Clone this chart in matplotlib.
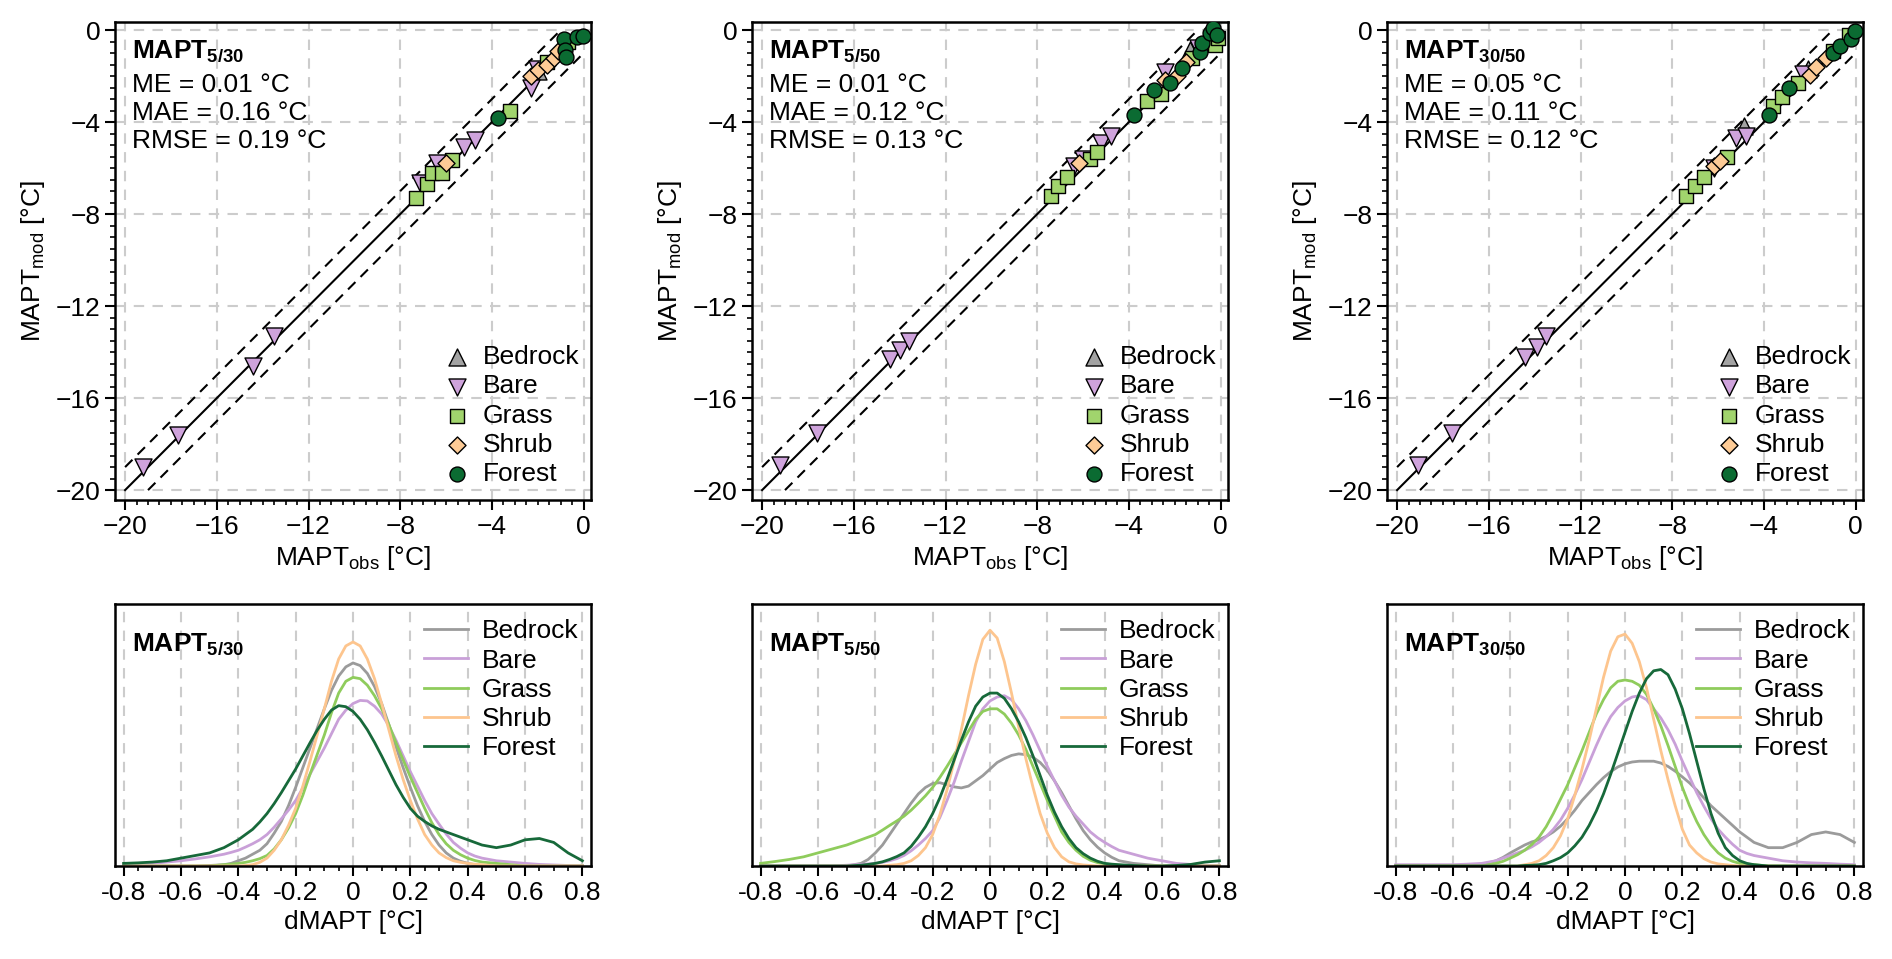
import numpy as np
import matplotlib
matplotlib.use('Agg')
import matplotlib.pyplot as plt
from matplotlib.ticker import MultipleLocator

plt.rcParams['font.family'] = ['Liberation Sans', 'DejaVu Sans']
plt.rcParams['mathtext.fontset'] = 'custom'
plt.rcParams['mathtext.rm'] = 'Liberation Sans'
plt.rcParams['mathtext.bf'] = 'Liberation Sans:bold'
plt.rcParams['mathtext.it'] = 'Liberation Sans:italic'

# classes and styles
classes = ['Bedrock', 'Bare', 'Grass', 'Shrub', 'Forest']
markers = ['^', 'v', 's', 'D', 'o']
marker_sizes = [150, 150, 115, 75, 115]
marker_colors = ['#a3a3a3', '#cfa3dc', '#a1d46d', '#fdcb96', '#0b6b32']
line_colors = ['#9b9b9b', '#c9a0d8', '#8fcc5c', '#fdc58e', '#17693a']

panel_names = ['5/30', '5/50', '30/50']
me = [0.01, 0.01, 0.05]
mae = [0.16, 0.12, 0.11]
rmse = [0.19, 0.13, 0.12]

# scatter data: observed / modelled MAPT per class, per panel
obs_530 = {
    'Bedrock': [-2.0],
    'Bare': [-19.2, -17.7, -14.4, -13.5, -7.15, -6.4, -5.2, -4.75, -2.3, -2.05],
    'Grass': [-7.3, -6.85, -6.6, -6.2, -5.75, -3.2, -1.6, -0.7],
    'Shrub': [-6.0, -2.3, -2.0, -1.6, -1.3, -1.1],
    'Forest': [-3.75, -0.85, -0.8, -0.75, -0.3, -0.05],
}
mod_530 = {
    'Bedrock': [-1.8],
    'Bare': [-19.0, -17.6, -14.6, -13.3, -6.65, -5.8, -5.1, -4.8, -2.5, -1.7],
    'Grass': [-7.3, -6.7, -6.2, -6.2, -5.65, -3.5, -1.4, -0.5],
    'Shrub': [-5.8, -2.0, -1.75, -1.5, -1.2, -0.9],
    'Forest': [-3.83, -0.4, -0.85, -1.15, -0.3, -0.25],
}
obs_550 = {
    'Bedrock': [-1.35],
    'Bare': [-19.2, -17.6, -14.4, -14.0, -13.6, -6.4, -6.0, -5.2, -4.8, -2.44, -1.0],
    'Grass': [-7.4, -7.1, -6.7, -5.7, -5.4, -3.2, -2.6, -1.26, -0.26, -0.1],
    'Shrub': [-6.2, -2.44, -1.9, -1.5],
    'Forest': [-3.8, -2.9, -2.2, -1.7, -0.91, -0.83, -0.48, -0.35, -0.17],
}
mod_550 = {
    'Bedrock': [-0.87],
    'Bare': [-18.9, -17.5, -14.3, -13.9, -13.5, -5.9, -5.6, -4.9, -4.6, -1.83, -0.8],
    'Grass': [-7.2, -6.8, -6.4, -5.6, -5.3, -3.1, -2.8, -1.2, -0.65, -0.35],
    'Shrub': [-5.8, -2.17, -2.0, -1.4],
    'Forest': [-3.7, -2.6, -2.3, -1.65, -0.96, -0.57, -0.13, 0.1, -0.2],
}
obs_3050 = {
    'Bedrock': [-4.85, -2.1],
    'Bare': [-19.1, -17.6, -14.4, -13.9, -13.5, -6.2, -5.2, -4.8, -2.3],
    'Grass': [-7.4, -7.0, -6.6, -5.6, -3.6, -3.2, -2.5, -1.0, -0.3],
    'Shrub': [-6.2, -5.9, -2.0, -1.75, -1.3],
    'Forest': [-3.8, -2.9, -1.0, -0.7, -0.2, -0.05],
}
mod_3050 = {
    'Bedrock': [-4.15, -1.7],
    'Bare': [-18.9, -17.5, -14.2, -13.8, -13.3, -6.0, -4.7, -4.6, -1.9],
    'Grass': [-7.2, -6.8, -6.4, -5.5, -3.3, -2.9, -2.3, -0.9, -0.2],
    'Shrub': [-5.9, -5.7, -1.95, -1.6, -1.2],
    'Forest': [-3.7, -2.5, -1.0, -0.7, -0.4, -0.05],
}
obs_all = [obs_530, obs_550, obs_3050]
mod_all = [mod_530, mod_550, mod_3050]

# density curves of dMAPT (relative height):
# 0.05 steps in the tails, 0.025 steps between -0.45 and 0.45
dmapt = np.concatenate([np.linspace(-0.8, -0.5, 7), np.linspace(-0.45, 0.45, 37), np.linspace(0.5, 0.8, 7)])

dens_530 = {
    'Bedrock': [0, 0, 0, 0, 0, 0, .002,
                .005, .01, .02, .03, .045, .06, .085, .125, .17, .23, .30, .375, .45, .525, .60, .67, .725, .76,
                .775,
                .765, .735, .685, .62, .54, .455, .375, .30, .23, .17, .12, .08, .05, .03, .018, .01, .005, .002,
                0, 0, 0, 0, 0, 0, 0],
    'Bare': [.005, .007, .01, .015, .02, .027, .035,
             .045, .052, .06, .072, .085, .10, .12, .148, .18, .213, .25, .298, .35, .40, .45, .505, .56, .595,
             .62,
             .632, .63, .61, .58, .535, .48, .42, .36, .305, .25, .20, .16, .122, .09, .068, .05, .038, .03,
             .02, .015, .01, .006, .004, .002, .001],
    'Grass': [0, 0, 0, 0, 0, 0, 0,
              .005, .007, .01, .014, .02, .028, .04, .065, .10, .145, .20, .27, .35, .425, .50, .585, .66, .705,
              .72,
              .715, .69, .65, .60, .54, .47, .405, .34, .28, .22, .165, .12, .085, .06, .043, .03, .021, .015,
              .01, .005, 0, 0, 0, 0, 0],
    'Shrub': [0, 0, 0, 0, 0, 0, 0,
              0, 0, 0, .002, .005, .014, .03, .06, .10, .155, .22, .305, .40, .50, .60, .705, .79, .84,
              .855,
              .84, .79, .715, .62, .52, .42, .33, .25, .18, .12, .08, .05, .032, .02, .014, .01, .007, .005,
              0, 0, 0, 0, 0, 0, 0],
    'Forest': [.01, .012, .015, .02, .03, .04, .05,
               .07, .085, .10, .12, .14, .168, .20, .238, .28, .325, .37, .42, .47, .518, .56, .595, .612, .608,
               .59,
               .56, .52, .472, .42, .365, .31, .262, .22, .19, .17, .153, .14, .13, .12, .11, .10, .09, .08,
               .07, .08, .10, .105, .09, .05, .02],
}
dens_550 = {
    'Bedrock': [0, 0, 0, 0, 0, 0, 0,
                .01, .025, .05, .08, .12, .16, .20, .24, .275, .30, .315, .318, .31, .302, .298, .305, .325, .345,
                .37,
                .395, .41, .422, .428, .425, .415, .395, .365, .325, .28, .23, .18, .135, .10, .072, .05, .033, .02,
                .01, .005, 0, 0, 0, 0, 0],
    'Bare': [0, 0, 0, 0, 0, 0, .003,
             .006, .008, .01, .014, .02, .028, .04, .058, .08, .105, .135, .185, .25, .32, .40, .475, .55, .60,
             .63,
             .645, .65, .635, .60, .555, .50, .44, .38, .325, .27, .225, .19, .16, .13, .108, .09, .074, .06,
             .045, .03, .02, .01, .006, .003, .001],
    'Grass': [.01, .017, .025, .035, .05, .065, .08,
              .10, .11, .12, .137, .155, .172, .19, .213, .24, .268, .30, .338, .38, .425, .47, .515, .56, .59,
              .60,
              .60, .58, .545, .50, .445, .38, .315, .25, .19, .13, .09, .06, .037, .022, .013, .008, .005, .003,
              0, 0, 0, 0, 0, 0, 0],
    'Shrub': [0, 0, 0, 0, 0, 0, 0,
              0, 0, 0, 0, .003, .005, .01, .02, .04, .07, .12, .195, .29, .40, .52, .65, .77, .865,
              .90,
              .87, .78, .66, .53, .41, .30, .20, .125, .07, .035, .016, .008, .004, .002, 0, 0, 0, 0,
              0, 0, 0, 0, 0, 0, 0],
    'Forest': [0, 0, 0, 0, 0, 0, 0,
               .003, .006, .01, .016, .025, .036, .05, .075, .11, .15, .20, .26, .33, .405, .48, .55, .61, .645,
               .66,
               .66, .64, .60, .55, .49, .42, .345, .27, .205, .15, .105, .07, .047, .03, .018, .01, .007, .005,
               .002, 0, 0, .002, .006, .015, .02],
}
dens_3050 = {
    'Bedrock': [0, 0, 0, 0, 0, 0, .005,
                .02, .033, .05, .065, .08, .092, .10, .113, .13, .152, .18, .213, .25, .28, .31, .337, .36, .378,
                .39,
                .397, .40, .40, .40, .393, .38, .362, .34, .317, .29, .26, .23, .205, .18, .155, .13, .11, .09,
                .07, .07, .09, .12, .13, .12, .09],
    'Bare': [.005, .005, .005, .005, .005, .007, .01,
             .02, .03, .04, .05, .06, .073, .09, .112, .14, .175, .22, .272, .33, .395, .46, .52, .57, .605,
             .63,
             .645, .65, .635, .60, .565, .52, .465, .40, .34, .28, .228, .18, .14, .11, .083, .06, .048, .04,
             .03, .02, .015, .012, .01, .007, .005],
    'Grass': [0, 0, 0, 0, 0, 0, 0,
              .01, .018, .03, .043, .06, .082, .11, .15, .20, .255, .31, .375, .44, .51, .58, .635, .68, .705,
              .71,
              .705, .69, .655, .60, .535, .46, .38, .30, .23, .17, .12, .08, .05, .03, .018, .01, .007, .005,
              0, 0, 0, 0, 0, 0, 0],
    'Shrub': [0, 0, 0, 0, 0, 0, 0,
              0, 0, 0, 0, .005, .01, .02, .04, .07, .115, .18, .27, .37, .48, .60, .72, .82, .875,
              .885,
              .85, .78, .68, .56, .44, .33, .23, .14, .08, .05, .028, .015, .008, .005, .002, 0, 0, 0,
              0, 0, 0, 0, 0, 0, 0],
    'Forest': [0, 0, 0, 0, 0, 0, 0,
               0, 0, 0, 0, .002, .003, .005, .01, .02, .032, .05, .077, .11, .155, .21, .275, .35, .43,
               .51,
               .59, .66, .715, .745, .75, .73, .675, .60, .505, .40, .295, .20, .125, .07, .04, .02, .01, .005,
               0, 0, 0, 0, 0, 0, 0],
}
dens_all = [dens_530, dens_550, dens_3050]

FS = 19
fig = plt.figure(figsize=(18.92, 9.59), dpi=100)

lefts = [115 / 1892, 752 / 1892, 1387 / 1892]
w = 476 / 1892
grid_kw = dict(color='#cccccc', linestyle=(0, (5, 4)), linewidth=1.5)

for i in range(3):
    # ---- scatter panel
    ax = fig.add_axes([lefts[i], 1 - 500 / 959, w, 478 / 959])
    ax.set_xlim(-20.44, 0.32)
    ax.set_ylim(-20.43, 0.35)
    ax.xaxis.set_major_locator(MultipleLocator(4))
    ax.yaxis.set_major_locator(MultipleLocator(4))
    ax.xaxis.set_minor_locator(MultipleLocator(0.5))
    ax.yaxis.set_minor_locator(MultipleLocator(0.5))
    ax.grid(True, which='major', **grid_kw)
    ax.set_axisbelow(True)
    ax.tick_params(which='both', direction='out', top=False, right=False, labelsize=FS, width=1.5)
    ax.tick_params(which='major', length=7)
    ax.tick_params(which='minor', length=3.5, width=1.2)
    for s in ax.spines.values():
        s.set_linewidth(1.8)

    ax.plot([-20, 0], [-20, 0], color='black', lw=1.5)
    ax.plot([-20, -1], [-19, 0], color='black', lw=1.5, ls=(0, (5, 3.5)))
    ax.plot([-19, 0], [-20, -1], color='black', lw=1.5, ls=(0, (5, 3.5)))

    for c, m, ms, col in zip(classes, markers, marker_sizes, marker_colors):
        ax.scatter(obs_all[i][c], mod_all[i][c], marker=m, s=ms,
                   facecolor=col, edgecolor='black', linewidth=1.0, label=c, zorder=3)

    ax.legend(loc='lower right', bbox_to_anchor=(1.015, -0.01), frameon=False, fontsize=FS,
              handlelength=1.2, handletextpad=0.4, labelspacing=0.2, borderaxespad=0.3)

    ax.text(0.035, 0.925, r'$\mathbf{MAPT_{' + panel_names[i] + '}}$', transform=ax.transAxes,
            fontsize=FS, va='baseline')
    ax.text(0.035, 0.854, f'ME = {me[i]:.2f} °C', transform=ax.transAxes, fontsize=FS, va='baseline')
    ax.text(0.035, 0.795, f'MAE = {mae[i]:.2f} °C', transform=ax.transAxes, fontsize=FS, va='baseline')
    ax.text(0.035, 0.736, f'RMSE = {rmse[i]:.2f} °C', transform=ax.transAxes, fontsize=FS, va='baseline')

    ax.set_xlabel(r'MAPT$_{\mathregular{obs}}$ [°C]', fontsize=FS, labelpad=4)
    ax.set_ylabel(r'MAPT$_{\mathregular{mod}}$ [°C]', fontsize=FS, labelpad=6)

    # ---- density panel
    bx = fig.add_axes([lefts[i], 1 - 866 / 959, w, 262 / 959])
    for c, col in zip(classes, line_colors):
        bx.plot(dmapt, dens_all[i][c], color=col, lw=2.0, label=c, solid_joinstyle='round')
    bx.set_xlim(-0.83, 0.83)
    bx.set_ylim(0, 1.0)
    bx.xaxis.set_minor_locator(MultipleLocator(0.05))
    bx.set_yticks([])
    bx.set_xticks(np.round(np.arange(-0.8, 0.81, 0.2), 1))
    bx.set_xticklabels(['-0.8', '-0.6', '-0.4', '-0.2', '0', '0.2', '0.4', '0.6', '0.8'])
    bx.grid(True, axis='x', which='major', **grid_kw)
    bx.set_axisbelow(True)
    bx.tick_params(which='both', direction='out', top=False, right=False, labelsize=FS, width=1.5)
    bx.tick_params(which='major', length=7)
    bx.tick_params(which='minor', length=3.5, width=1.2)
    for s in bx.spines.values():
        s.set_linewidth(1.8)
    bx.legend(loc='upper right', bbox_to_anchor=(1.013, 1.012), frameon=False, fontsize=FS,
              handlelength=1.65, handletextpad=0.55, labelspacing=0.2, borderaxespad=0.3)
    bx.text(0.035, 0.82, r'$\mathbf{MAPT_{' + panel_names[i] + '}}$', transform=bx.transAxes,
            fontsize=FS, va='baseline')
    bx.set_xlabel('dMAPT [°C]', fontsize=FS, labelpad=4)

fig.savefig('out.png', dpi=100)
